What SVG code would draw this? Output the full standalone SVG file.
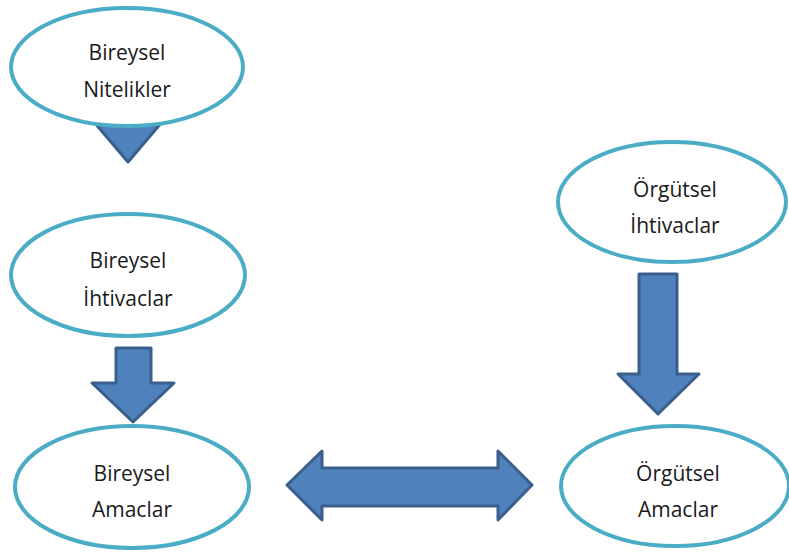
<svg xmlns="http://www.w3.org/2000/svg" width="789" height="553" viewBox="0 0 789 553">
<style>
.node ellipse{fill:#fff;stroke:#4BACC6;stroke-width:4}
.node text{font-family:"Open Sans","Noto Sans",sans-serif;font-size:21px;fill:#1a1a1a;text-anchor:middle}
.arrow{fill:#4F81BD;stroke:#3A5F8C;stroke-width:3;stroke-linejoin:round}
</style>
<rect width="789" height="553" fill="#fff"/>
<g id="connectors">
<polygon class="arrow" points="94,122 162,122 128,162"/>
<polygon class="arrow" points="116,348 151,348 151,383 174,383 133,422 92,383 116,383"/>
<polygon class="arrow" points="639,274 677,274 677,374 699,374 658,414 618,374 639,374"/>
<polygon class="arrow" points="287,485 322,451 322,468 498,468 498,451 532,485 498,520 498,506 322,506 322,520"/>
</g>
<g id="n1" class="node"><ellipse cx="127" cy="67" rx="116" ry="59"/><text x="127" y="60">Bireysel</text><text x="127" y="97">Nitelikler</text></g>
<g id="n2" class="node"><ellipse cx="128" cy="275" rx="117" ry="61"/><text x="128" y="268">Bireysel</text><text x="128" y="306">İhtivaclar</text></g>
<g id="n3" class="node"><ellipse cx="132" cy="487" rx="117" ry="61"/><text x="132" y="481">Bireysel</text><text x="132" y="517">Amaclar</text></g>
<g id="n4" class="node"><ellipse cx="672" cy="202" rx="114" ry="60"/><text x="675" y="197">Örgütsel</text><text x="675" y="233">İhtivaclar</text></g>
<g id="n5" class="node"><ellipse cx="675" cy="486" rx="114" ry="60"/><text x="678" y="481">Örgütsel</text><text x="678" y="517">Amaclar</text></g>
</svg>
